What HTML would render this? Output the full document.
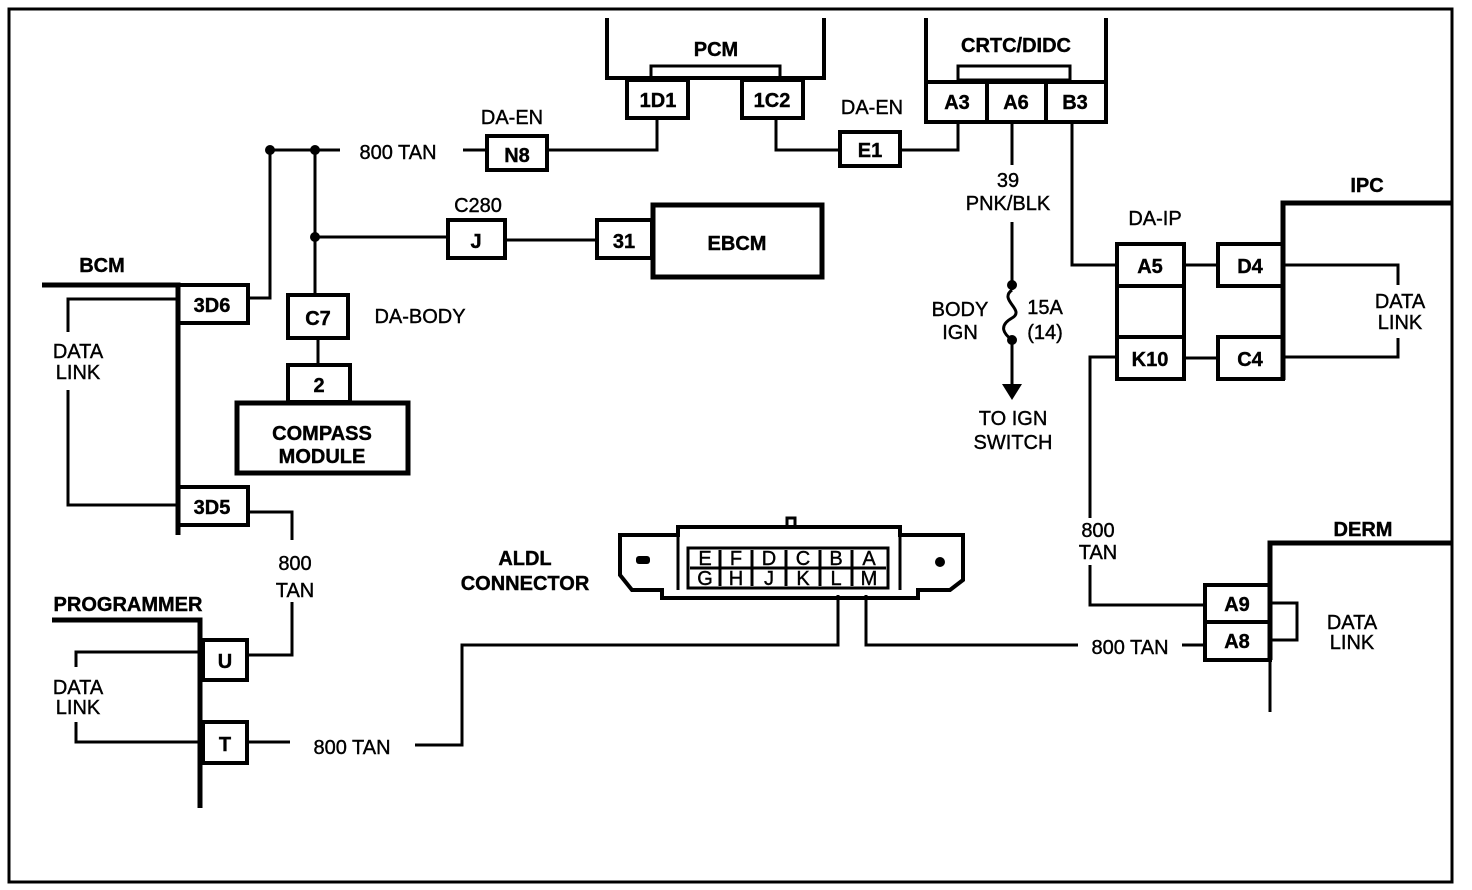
<!DOCTYPE html>
<html><head><meta charset="utf-8"><style>
html,body{margin:0;padding:0;background:#fff;}
svg{display:block;}
text{font-family:"Liberation Sans",Arial,sans-serif;font-size:20px;fill:#000;text-anchor:middle;stroke:#000;stroke-width:0.4;}
.b{font-weight:bold;font-size:22px;}
</style></head><body>
<svg width="1472" height="890" viewBox="0 0 1472 890" xmlns="http://www.w3.org/2000/svg">
<rect width="1472" height="890" fill="#fff"/>
<rect x="9" y="9" width="1443" height="873" fill="none" stroke="#000" stroke-width="3"/>
<g fill="none" stroke="#000" stroke-width="3">
<path d="M607 18V78H824V18" stroke-width="4"/>
<rect x="651" y="66" width="129" height="12"/>
<rect x="627" y="80" width="61" height="38" stroke-width="4"/>
<rect x="742" y="80" width="61" height="38" stroke-width="4"/>
<path d="M657 118V150H547"/>
<rect x="487" y="136" width="60" height="34" stroke-width="4"/>
<path d="M463 150H487"/>
<path d="M270 150H340"/>
<path d="M776 118V150H840"/>
<rect x="840" y="132" width="60" height="34" stroke-width="4"/>
<path d="M900 150H958V122"/>
<path d="M926 18V122H1106V18" stroke-width="4"/>
<path d="M926 82H1106" stroke-width="4"/>
<rect x="958" y="66" width="112" height="14"/>
<path d="M987 82V122M1046 82V122" stroke-width="4"/>
<path d="M1012 122V165"/>
<path d="M1012 222V290"/>
<path d="M1012 290C998 300 1026 310 1012 318C998 326 1004 334 1012 340"/>
<path d="M1012 340V388"/>
<path d="M1072 122V265H1118"/>
<rect x="1117" y="244" width="67" height="135" stroke-width="4"/>
<path d="M1117 286H1184M1117 337H1184" stroke-width="4"/>
<rect x="1218" y="244" width="65" height="42" stroke-width="4"/>
<rect x="1218" y="337" width="65" height="42" stroke-width="4"/>
<path d="M1184 265H1218M1184 358H1218"/>
<path d="M1283 380V203H1452" stroke-width="5"/>
<path d="M1283 265H1398V285M1398 338V357H1283"/>
<path d="M1117 357H1090V518M1090 565V605H1205"/>
<path d="M1270 660V543H1452" stroke-width="5"/>
<path d="M1270 660V712"/>
<rect x="1205" y="585" width="65" height="75" stroke-width="4"/>
<path d="M1205 622H1270" stroke-width="4"/>
<path d="M1270 603H1297V640H1270"/>
<path d="M1205 645H1182M1078 645H866V595"/>
<path d="M838 595V645H462V745H415"/>
<path d="M52 620H200V808" stroke-width="5"/>
<rect x="203" y="640" width="44" height="40" stroke-width="4"/>
<rect x="203" y="722" width="44" height="41" stroke-width="4"/>
<path d="M290 742H247"/>
<path d="M247 655H292V602M292 540V512H248"/>
<path d="M200 652H76V667M76 722V742H200"/>
<path d="M42 285H178V535" stroke-width="5"/>
<rect x="178" y="285" width="70" height="38" stroke-width="4"/>
<rect x="178" y="487" width="70" height="38" stroke-width="4"/>
<path d="M248 298H270V150"/>
<path d="M178 299H68V332M68 390V505H178"/>
<path d="M315 150V295"/>
<path d="M315 237H448"/>
<rect x="448" y="220" width="57" height="38" stroke-width="4"/>
<path d="M505 240H597"/>
<rect x="597" y="220" width="55" height="38" stroke-width="4"/>
<rect x="653" y="205" width="169" height="72" stroke-width="5"/>
<rect x="288" y="295" width="60" height="43" stroke-width="4"/>
<path d="M318 338V365"/>
<rect x="288" y="365" width="62" height="37" stroke-width="4"/>
<rect x="237" y="403" width="171" height="70" stroke-width="5"/>
<path d="M620 535H678V527H900V535H963V580L950 590H918V598H662V590H632L620 575Z" stroke-width="4"/>
<path d="M678 535V590M900 535V590"/>
<rect x="688" y="548" width="200" height="40"/>
<path d="M690 568H886"/>
<path d="M720 550V586M752 550V586M786 550V586M820 550V586M852 550V586"/>
<path d="M787 527V518H795V527"/>
</g>
<g fill="#000">
<circle cx="270" cy="150" r="5"/><circle cx="315" cy="150" r="5"/><circle cx="315" cy="237" r="5"/>
<circle cx="1012" cy="285" r="5"/><circle cx="1012" cy="340" r="5"/>
<path d="M1002 384H1022L1012 400Z"/>
<rect x="636" y="556" width="14" height="8" rx="3"/>
<circle cx="940" cy="562" r="5"/>
</g>
<g class="b">
<text x="716" y="56">PCM</text>
<text x="1016" y="52">CRTC/DIDC</text>
<text x="658" y="107">1D1</text><text x="772" y="107">1C2</text>
<text x="957" y="109">A3</text><text x="1016" y="109">A6</text><text x="1075" y="109">B3</text>
<text x="517" y="162">N8</text><text x="870" y="157">E1</text>
<text x="1367" y="192">IPC</text>
<text x="1150" y="273">A5</text><text x="1250" y="273">D4</text>
<text x="1150" y="366">K10</text><text x="1250" y="366">C4</text>
<text x="1363" y="536">DERM</text>
<text x="1237" y="611">A9</text><text x="1237" y="648">A8</text>
<text x="102" y="272">BCM</text>
<text x="212" y="312">3D6</text><text x="212" y="514">3D5</text>
<text x="476" y="248">J</text><text x="624" y="248">31</text>
<text x="737" y="250">EBCM</text>
<text x="318" y="325">C7</text><text x="319" y="392">2</text>
<text x="322" y="440">COMPASS</text><text x="322" y="463">MODULE</text>
<text x="128" y="611">PROGRAMMER</text>
<text x="225" y="668">U</text><text x="225" y="751">T</text>
<text x="525" y="565">ALDL</text><text x="525" y="590">CONNECTOR</text>
</g>
<g>
<text x="512" y="124">DA-EN</text><text x="872" y="114">DA-EN</text>
<text x="398" y="159">800 TAN</text>
<text x="478" y="212">C280</text>
<text x="1008" y="187">39</text><text x="1008" y="210">PNK/BLK</text>
<text x="960" y="316">BODY</text><text x="960" y="339">IGN</text>
<text x="1045" y="314">15A</text><text x="1045" y="339">(14)</text>
<text x="1013" y="425">TO IGN</text><text x="1013" y="449">SWITCH</text>
<text x="1155" y="225">DA-IP</text>
<text x="1400" y="308">DATA</text><text x="1400" y="329">LINK</text>
<text x="1098" y="537">800</text><text x="1098" y="559">TAN</text>
<text x="1352" y="629">DATA</text><text x="1352" y="649">LINK</text>
<text x="1130" y="654">800 TAN</text>
<text x="420" y="323">DA-BODY</text>
<text x="78" y="358">DATA</text><text x="78" y="379">LINK</text>
<text x="295" y="570">800</text><text x="295" y="597">TAN</text>
<text x="78" y="694">DATA</text><text x="78" y="714">LINK</text>
<text x="352" y="754">800 TAN</text>
<g style="font-size:13px">
<text x="705" y="565">E</text><text x="736" y="565">F</text><text x="769" y="565">D</text><text x="803" y="565">C</text><text x="836" y="565">B</text><text x="869" y="565">A</text>
<text x="705" y="585">G</text><text x="736" y="585">H</text><text x="769" y="585">J</text><text x="803" y="585">K</text><text x="836" y="585">L</text><text x="869" y="585">M</text>
</g>
</g>
</svg>
</body></html>
